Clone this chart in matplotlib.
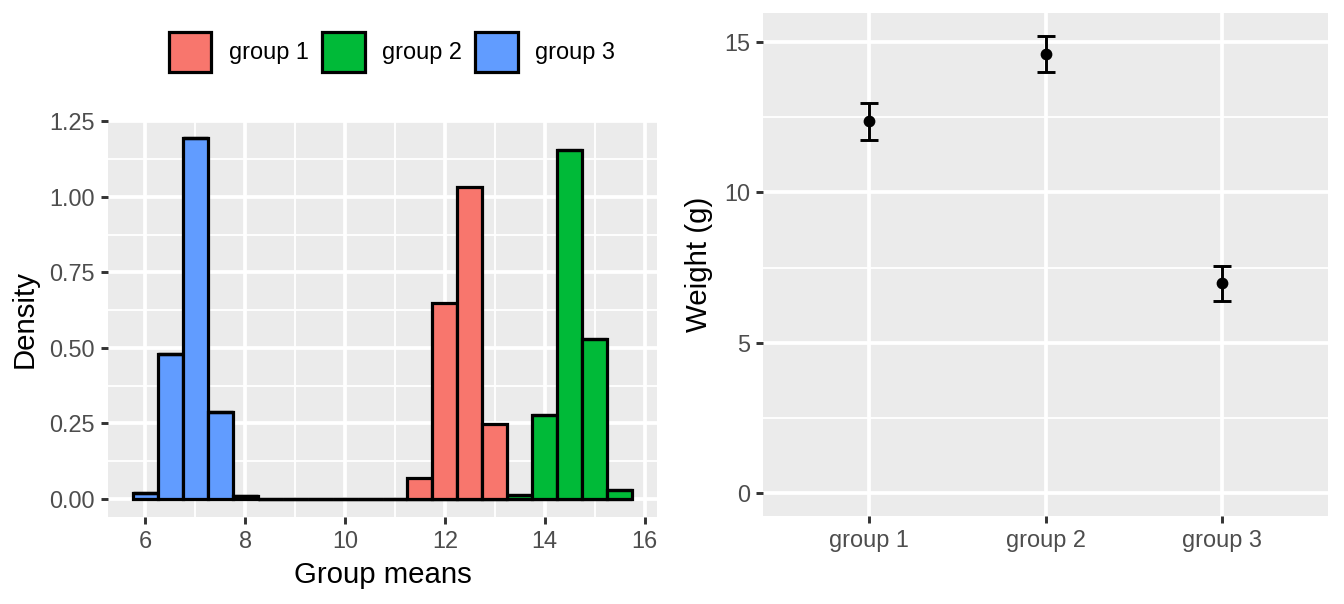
import numpy as np
import matplotlib
matplotlib.use("Agg")
import matplotlib.pyplot as plt
from matplotlib.patches import Patch
from matplotlib.ticker import MultipleLocator, FormatStrFormatter

plt.rcParams.update({
    "font.family": ["Liberation Sans", "DejaVu Sans"],
    "font.size": 11,
})

# histogram data: bin centres (width 0.5) and per-group densities
bin_centres = np.arange(6.0, 15.51, 0.5)   # 6.0 ... 15.5 (20 bins)
bin_width = 0.5
groups = ["group 1", "group 2", "group 3"]
colours = ["#F8766D", "#00BA38", "#619CFF"]
dens_g1 = [0, 0, 0, 0, 0, 0, 0, 0, 0, 0, 0, 0.07, 0.647, 1.033, 0.248, 0, 0, 0, 0, 0]
dens_g2 = [0, 0, 0, 0, 0, 0, 0, 0, 0, 0, 0, 0, 0, 0, 0, 0.012, 0.278, 1.155, 0.528, 0.031]
dens_g3 = [0.021, 0.48, 1.194, 0.288, 0.01, 0, 0, 0, 0, 0, 0, 0, 0, 0, 0, 0, 0, 0, 0, 0]

# group summaries: mean and error bar limits
means = [12.39, 14.61, 6.98]
err_low = [11.73, 14.02, 6.38]
err_high = [12.99, 15.21, 7.54]

W, H = 1344, 604
fig = plt.figure(figsize=(W / 192, H / 192), dpi=192)

def px_axes(x0, y0, x1, y1):
    return fig.add_axes([x0 / W, (H - y1) / H, (x1 - x0) / W, (y1 - y0) / H])

def ggstyle(ax):
    ax.set_facecolor("#EBEBEB")
    for s in ax.spines.values():
        s.set_visible(False)
    ax.grid(which="major", color="white", linewidth=1.4)
    ax.grid(which="minor", color="white", linewidth=0.7)
    ax.set_axisbelow(True)
    ax.tick_params(which="major", color="#333333", length=2.75, width=1.1,
                   labelsize=8.8, labelcolor="#4D4D4D", pad=2.2)
    ax.tick_params(which="minor", length=0)

# ---- left: stacked histogram
ax1 = px_axes(108, 120, 657, 517)
ggstyle(ax1)
bottom = np.zeros(len(bin_centres))
for dens, col in zip([dens_g3, dens_g2, dens_g1], colours[::-1]):
    ax1.bar(bin_centres, dens, width=bin_width, bottom=bottom, color=col,
            edgecolor="black", linewidth=1.2, zorder=2)
    bottom += np.array(dens)
ax1.set_xlim(5.25, 16.25)
ax1.set_ylim(-0.06, 1.254)
ax1.xaxis.set_major_locator(MultipleLocator(2))
ax1.xaxis.set_minor_locator(MultipleLocator(1))
ax1.yaxis.set_major_locator(MultipleLocator(0.25))
ax1.yaxis.set_minor_locator(MultipleLocator(0.125))
ax1.yaxis.set_major_formatter(FormatStrFormatter("%.2f"))
ax1.set_xlabel("Group means", fontsize=11, labelpad=3)
ax1.set_ylabel("Density", fontsize=11, labelpad=4)

fig.legend(handles=[Patch(facecolor=c, edgecolor="black", linewidth=1.2, label=g)
                    for g, c in zip(groups, colours)],
           loc="center", bbox_to_anchor=(392 / W, 1 - 52 / H), ncol=3,
           frameon=False, fontsize=8.8, handlelength=1.82, handleheight=2.2,
           handletextpad=0.75, columnspacing=0.55, borderpad=0)

# ---- right: means with error bars
ax2 = px_axes(763, 13, 1328, 516)
ggstyle(ax2)
pos = np.arange(1, len(groups) + 1)
m = np.array(means)
ax2.errorbar(pos, m, yerr=[m - np.array(err_low), np.array(err_high) - m],
             fmt="o", color="black", markersize=3.4, elinewidth=1.1,
             capsize=3.4, capthick=1.1, zorder=3)
ax2.set_xlim(0.4, 3.6)
ax2.set_ylim(-0.76, 15.97)
ax2.set_xticks(pos)
ax2.set_xticklabels(groups)
ax2.yaxis.set_major_locator(MultipleLocator(5))
ax2.yaxis.set_minor_locator(MultipleLocator(2.5))
ax2.set_ylabel("Weight (g)", fontsize=11, labelpad=4)

fig.savefig("out.png", dpi=192)
